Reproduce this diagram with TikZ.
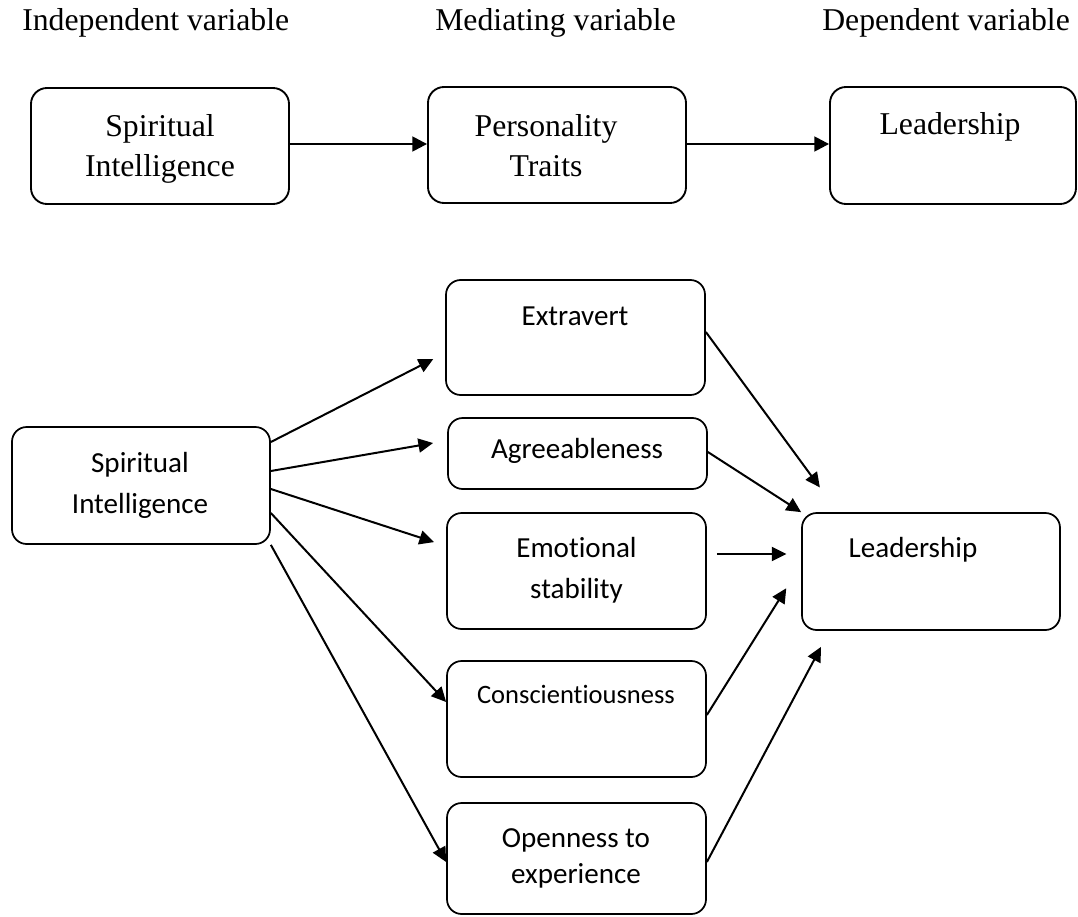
\documentclass[tikz,border=0pt]{standalone}
\usepackage{fontspec}
\setmainfont{Liberation Serif}
\newfontfamily\calfont[Ligatures=NoCommon]{Carlito}
\usetikzlibrary{arrows.meta,fit}
\begin{document}
\begin{tikzpicture}[x=0.75pt,y=-0.75pt,
  boxT/.style={draw,line width=1.4pt,rounded corners=12pt,inner sep=0pt},
  boxB/.style={draw,line width=1.3pt,rounded corners=11pt,inner sep=0pt},
  tT/.style={inner sep=0pt,anchor=base,font=\fontsize{23.8pt}{30pt}\selectfont},
  tB/.style={inner sep=0pt,anchor=base,font=\calfont\fontsize{21.8pt}{30pt}\selectfont},
  tC/.style={inner sep=0pt,anchor=base,font=\calfont\fontsize{19.9pt}{26pt}\selectfont},
  arrT/.style={line width=1.9pt,-{Triangle[length=11pt,width=11pt]}},
  arrB/.style={line width=1.5pt,-{Triangle[length=11pt,width=10.5pt]}}]
\useasboundingbox (0,0) rectangle (1078,917);
% headers
\node[tT,anchor=base west] (hind) at (22,31) {Independent variable};
\node[tT,anchor=base west] (hmed) at (435,31) {Mediating variable};
\node[tT,anchor=base west] (hdep) at (822,31) {Dependent variable};
% top row
\node[boxT,fit={(31,88) (289,204)}] (si1) {};
\node[boxT,fit={(428,87) (686,203)}] (pt) {};
\node[boxT,fit={(830,87) (1076,204)}] (ld1) {};
\node[tT] (si1a) at (160,136) {Spiritual};
\node[tT] (si1b) at (160,176) {Intelligence};
\node[tT] (pta) at (546,136) {Personality};
\node[tT] (ptb) at (546,176) {Traits};
\node[tT] (ld1a) at (950,134) {Leadership};
\draw[arrT] (si1.east |- 0,144) -- (pt.west |- 0,144);
\draw[arrT] (pt.east |- 0,144) -- (ld1.west |- 0,144);
% bottom diagram
\node[boxB,fit={(12,427) (270,544)}] (si2) {};
\node[boxB,fit={(446,280) (705,395)}] (ex) {};
\node[boxB,fit={(448,418) (707,489)}] (ag) {};
\node[boxB,fit={(447,513) (706,629)}] (es) {};
\node[boxB,fit={(447,661) (706,777)}] (co) {};
\node[boxB,fit={(447,803) (706,914)}] (op) {};
\node[boxB,fit={(802,513) (1060,630)}] (ld2) {};
\node[tB] (si2a) at (140,472) {Spiritual};
\node[tB] (si2b) at (140,513) {Intelligence};
\node[tB] (exa) at (575,325) {Extravert};
\node[tB] (aga) at (577,458) {Agreeableness};
\node[tB] (esa) at (576.5,557) {Emotional};
\node[tB] (esb) at (576.5,598) {stability};
\node[tC] (coa) at (576,703) {Conscientiousness};
\node[tB] (opa) at (576,847) {Openness to};
\node[tB] (opb) at (576,883) {experience};
\node[tB] (ld2a) at (913,557) {Leadership};
% arrows from spiritual intelligence
\draw[arrB,shorten >=10pt] (si2.east |- 0,442) -- (ex.west |- 0,353);
\draw[arrB,shorten >=10.7pt] (si2.east |- 0,471) -- (ag.west |- 0,440.6);
\draw[arrB,shorten >=9.5pt] (si2.east |- 0,489) -- (es.west |- 0,546);
\draw[arrB] (si2.east |- 0,513) -- (co.west |- 0,702);
\draw[arrB] (si2.south east) -- (op.west |- 0,862);
% arrows to leadership
\draw[arrB,shorten >=23pt] (ex.east |- 0,332) -- (ld2.north -| 838,0);
\draw[arrB] (ag.east |- 0,452) -- (ld2.north west);
\draw[arrB,shorten <=7.5pt,shorten >=11pt] (es.east |- 0,554) -- (ld2.west |- 0,554);
\draw[arrB,shorten >=21pt] (co.east |- 0,715) -- (ld2.west |- 0,564.5);
\draw[arrB,shorten >=13.6pt] (op.east |- 0,862) -- (ld2.south -| 829.5,0);
\end{tikzpicture}
\end{document}
